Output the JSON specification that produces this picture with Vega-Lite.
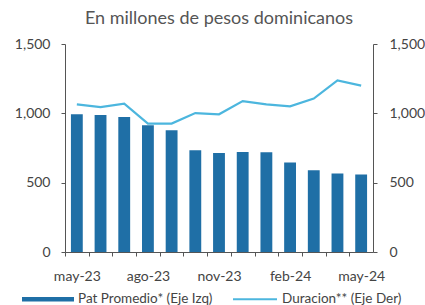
{
  "$schema": "https://vega.github.io/schema/vega-lite/v6.json",
  "width": 308,
  "height": 208,
  "autosize": {"type": "none"},
  "padding": {"left": 65, "top": 44, "right": 52, "bottom": 53},
  "background": "white",
  "title": {"text": "En millones de pesos dominicanos", "fontSize": 18, "fontWeight": "normal", "color": "#555555", "font": "Lato", "anchor": "middle", "offset": 9},
  "config": {
    "font": "Lato",
    "view": {"stroke": null},
    "axis": {"grid": false, "labelFont": "Lato", "labelFontSize": 14, "labelColor": "#444444", "domainColor": "#555555", "tickColor": "#555555", "tickSize": 4, "title": null}
  },
  "data": {"values": [
    {"mes": "may-23", "pat": 993, "dur": 1065},
    {"mes": "jun-23", "pat": 988, "dur": 1045},
    {"mes": "jul-23", "pat": 973, "dur": 1070},
    {"mes": "ago-23", "pat": 914, "dur": 926},
    {"mes": "sep-23", "pat": 878, "dur": 926},
    {"mes": "oct-23", "pat": 734, "dur": 1002},
    {"mes": "nov-23", "pat": 714, "dur": 993},
    {"mes": "dic-23", "pat": 722, "dur": 1088},
    {"mes": "ene-24", "pat": 720, "dur": 1065},
    {"mes": "feb-24", "pat": 645, "dur": 1050},
    {"mes": "mar-24", "pat": 590, "dur": 1106},
    {"mes": "abr-24", "pat": 566, "dur": 1237},
    {"mes": "may-24", "pat": 559, "dur": 1200}
  ]},
  "encoding": {
    "x": {"field": "mes", "type": "ordinal", "sort": null,
      "scale": {"paddingInner": 0.5, "paddingOuter": 0.25},
      "axis": {"labelAngle": 0, "bandPosition": 0.5, "tickOffset": -11.85, "labelOffset": 11.85, "labelPadding": 13, "ticks": true, "domain": true,
        "labelExpr": "indexof(['may-23','ago-23','nov-23','feb-24','may-24'], datum.value) >= 0 ? datum.value : ''"}}
  },
  "layer": [
    {
      "mark": {"type": "bar", "color": "#1f6fa6"},
      "transform": [{"calculate": "'Pat Promedio* (Eje Izq)'", "as": "serie"}],
      "encoding": {
        "y": {"field": "pat", "type": "quantitative", "scale": {"domain": [0, 1500], "nice": false},
          "axis": {"orient": "left", "values": [0, 500, 1000, 1500], "format": ",.0f", "labelPadding": 11}},
        "color": {"field": "serie", "type": "nominal",
          "scale": {"domain": ["Pat Promedio* (Eje Izq)", "Duracion** (Eje Der)"], "range": ["#1f6fa6", "#4cb6de"]},
          "legend": {"orient": "none", "legendX": -43, "legendY": 229, "direction": "horizontal", "title": null,
            "labelFontSize": 13.5, "labelColor": "#444444", "symbolSize": 2500, "columnPadding": 13, "labelOffset": 4,
            "encode": {"symbols": {"update": {
              "shape": {"signal": "datum.value == 'Duracion** (Eje Der)' ? 'M-0.76,0H1' : 'M-1,-0.05H1V0.05H-1Z'"},
              "fill": {"signal": "datum.value == 'Duracion** (Eje Der)' ? 'transparent' : '#1f6fa6'"},
              "stroke": {"signal": "datum.value == 'Duracion** (Eje Der)' ? '#4cb6de' : 'transparent'"},
              "strokeWidth": {"value": 2},
              "opacity": {"value": 1}
            }}}}}
      }
    },
    {
      "mark": {"type": "line", "color": "#4cb6de", "strokeWidth": 2.2},
      "transform": [{"calculate": "'Duracion** (Eje Der)'", "as": "serie"}],
      "encoding": {
        "y": {"field": "dur", "type": "quantitative", "scale": {"domain": [0, 1500], "nice": false},
          "axis": {"orient": "right", "values": [0, 500, 1000, 1500], "format": ",.0f", "labelPadding": 12}},
        "color": {"field": "serie", "type": "nominal"}
      }
    }
  ],
  "resolve": {"scale": {"y": "independent"}}
}
